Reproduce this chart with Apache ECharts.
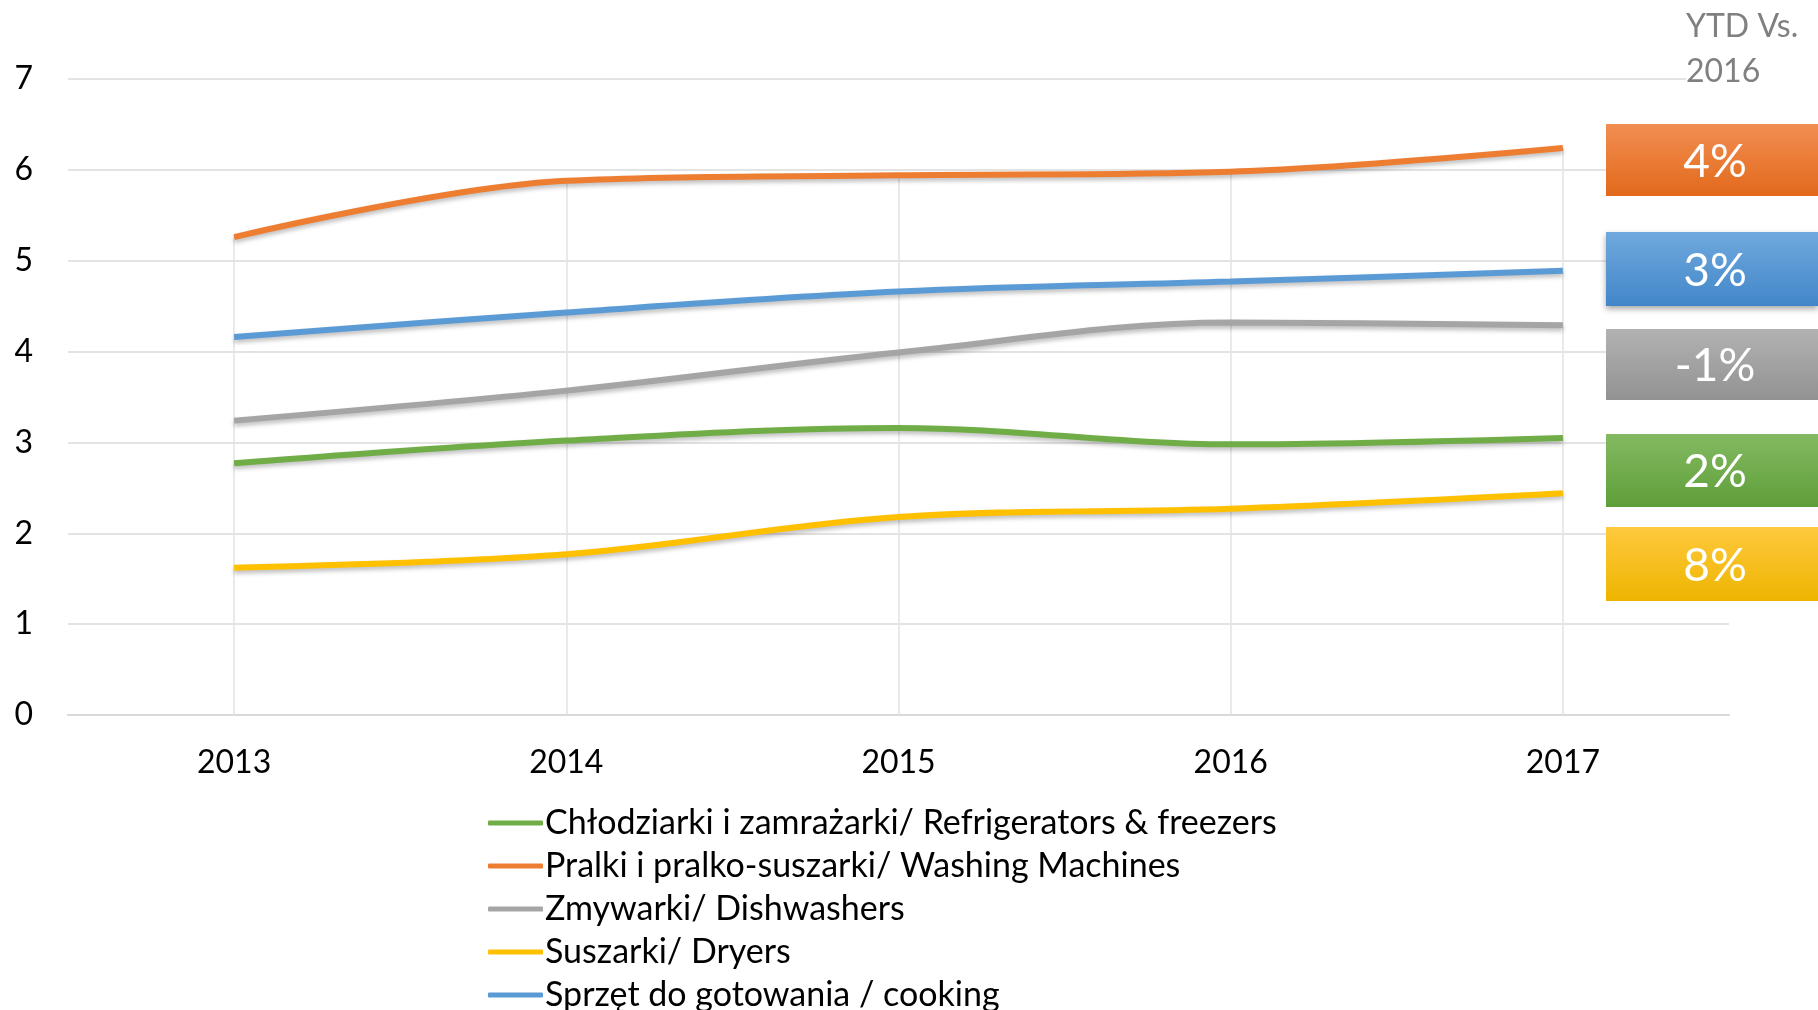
<!DOCTYPE html>
<html>
<head>
<meta charset="utf-8">
<script src="https://cdn.jsdelivr.net/npm/echarts@6/dist/echarts.min.js"></script>
<style>
  html, body { margin: 0; padding: 0; background: #fff; }
  #main { width: 1818px; height: 1010px; }
</style>
</head>
<body>
<div id="main"></div>
<script>
const years = ["2013", "2014", "2015", "2016", "2017"];
const fridges = [2.77, 3.02, 3.16, 2.98, 3.05];
const washers = [5.26, 5.88, 5.94, 5.98, 6.24];
const dishwashers = [3.24, 3.57, 3.99, 4.32, 4.29];
const dryers = [1.62, 1.77, 2.18, 2.27, 2.44];
const cooking = [4.16, 4.43, 4.66, 4.77, 4.89];
const names = [
  "Chłodziarki i zamrażarki/ Refrigerators & freezers",
  "Pralki i pralko-suszarki/ Washing Machines",
  "Zmywarki/ Dishwashers",
  "Suszarki/ Dryers",
  "Sprzęt do gotowania / cooking",
];
const colors = ["#70AD47", "#ED7D31", "#A5A5A5", "#FFC000", "#5B9BD5"];
const ytdLabels = ["4%", "3%", "-1%", "2%", "8%"];

const fontFamily = "Lato, 'Open Sans', sans-serif";

function lineSeries(name, data, color) {
  return {
    name: name,
    type: "line",
    data: data,
    smooth: 0.35,
    symbol: "none",
    color: color,
    lineStyle: {
      width: 6,
      color: color,
      shadowColor: "rgba(0,0,0,0.25)",
      shadowBlur: 4,
      shadowOffsetY: 3,
    },
  };
}

// drop lines like Excel: from the top series down to the axis
const dropLines = years.map((y, i) => [
  { coord: [y, 0] },
  { coord: [y, washers[i]] },
]);

const series = [
  lineSeries(names[0], fridges, colors[0]),
  lineSeries(names[1], washers, colors[1]),
  lineSeries(names[2], dishwashers, colors[2]),
  lineSeries(names[3], dryers, colors[3]),
  lineSeries(names[4], cooking, colors[4]),
];
series[1].markLine = {
  silent: true,
  symbol: "none",
  label: { show: false },
  lineStyle: { color: "#e3e3e3", width: 1.5, type: "solid", shadowBlur: 0 },
  data: dropLines,
  z: 1,
};

// YTD boxes on the right
const boxes = [
  { top: 124, h: 72, c1: "#F28E52", c2: "#E2691B" },
  { top: 232, h: 74, c1: "#70A9DE", c2: "#4286C9", shadow: true },
  { top: 329, h: 71, c1: "#B2B2B2", c2: "#929292" },
  { top: 434, h: 73, c1: "#84BA62", c2: "#5E9E39" },
  { top: 527, h: 74, c1: "#FFC93E", c2: "#EDB500" },
];
const graphic = [
  {
    type: "rect",
    z: 50,
    shape: { x: 1686, y: 50, width: 132, height: 45 },
    style: { fill: "#fff" },
  },
  {
    type: "text",
    z: 100,
    left: 1686,
    top: 4,
    style: {
      text: "YTD Vs.\n2016",
      fill: "#808080",
      font: "32px " + fontFamily,
      lineHeight: 45,
    },
  },
];
boxes.forEach((b, i) => {
  graphic.push({
    type: "rect",
    z: 100,
    shape: { x: 1606, y: b.top, width: 212, height: b.h },
    style: {
      fill: {
        type: "linear", x: 0, y: 0, x2: 0, y2: 1,
        colorStops: [
          { offset: 0, color: b.c1 },
          { offset: 1, color: b.c2 },
        ],
      },
      shadowColor: b.shadow ? "rgba(0,0,0,0.35)" : "transparent",
      shadowBlur: b.shadow ? 6 : 0,
      shadowOffsetY: b.shadow ? 3 : 0,
    },
  });
  graphic.push({
    type: "text",
    z: 101,
    x: 1715,
    y: b.top + b.h / 2 + 2,
    style: {
      text: ytdLabels[i],
      fill: "#fff",
      font: "46px " + fontFamily,
      align: "center",
      verticalAlign: "middle",
    },
  });
});

const myChart = echarts.init(document.getElementById("main"));
const option = {
  animation: false,
  backgroundColor: "#fff",
  textStyle: { fontFamily: fontFamily },
  grid: { left: 68, right: 89, top: 79, bottom: 295, containLabel: false },
  xAxis: {
    type: "category",
    data: years,
    boundaryGap: true,
    axisLine: { lineStyle: { color: "#d9d9d9", width: 2 } },
    axisTick: { show: false },
    splitLine: { show: false },
    axisLabel: { color: "#000", fontSize: 32, margin: 32 },
  },
  yAxis: {
    type: "value",
    min: 0,
    max: 7,
    interval: 1,
    axisLine: { show: false },
    axisTick: { show: false },
    splitLine: { lineStyle: { color: "#e3e3e3", width: 2 } },
    axisLabel: { color: "#000", fontSize: 32, margin: 35 },
  },
  legend: {
    orient: "vertical",
    left: 483,
    top: 801,
    height: 400,
    data: names,
    icon: "roundRect",
    itemWidth: 55,
    itemHeight: 5,
    itemGap: 9,
    textStyle: { color: "#000", fontSize: 34, lineHeight: 34, padding: [0, 0, 0, -3] },
  },
  series: series,
  graphic: graphic,
};
myChart.setOption(option);
</script>
</body>
</html>
